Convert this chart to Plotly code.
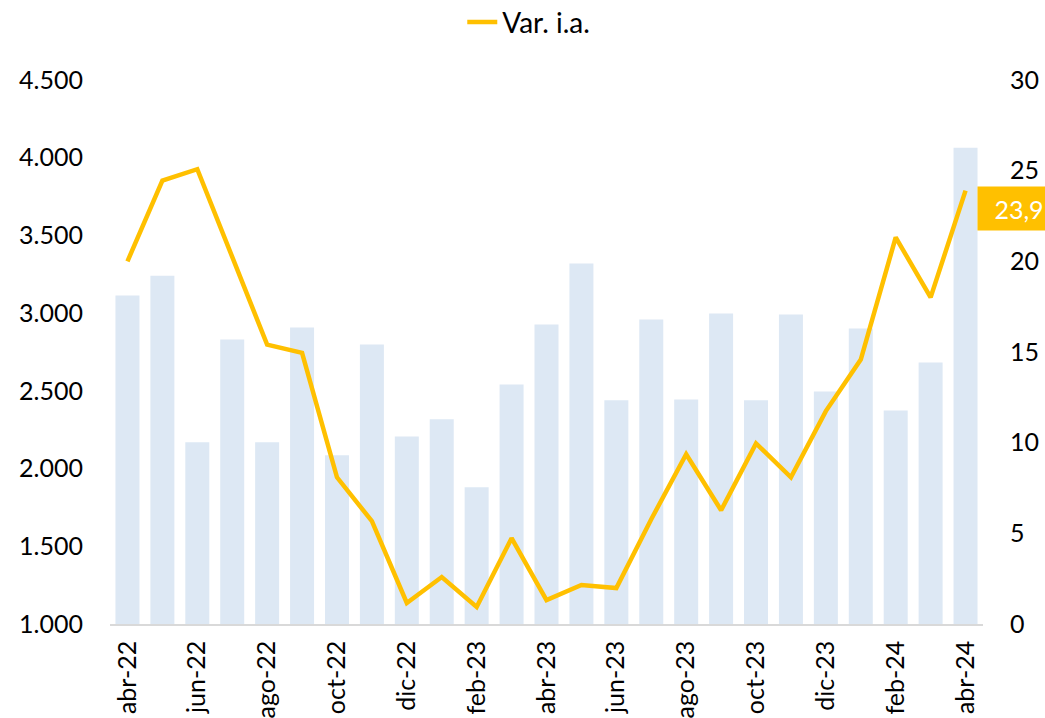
import plotly.graph_objects as go

months = ["abr-22", "may-22", "jun-22", "jul-22", "ago-22", "sep-22", "oct-22", "nov-22",
          "dic-22", "ene-23", "feb-23", "mar-23", "abr-23", "may-23", "jun-23", "jul-23",
          "ago-23", "sep-23", "oct-23", "nov-23", "dic-23", "ene-24", "feb-24", "mar-24", "abr-24"]
volume = [3113, 3241, 2169, 2830, 2169, 2907, 2085, 2798, 2207, 2317, 1880, 2541, 2927,
          3319, 2439, 2959, 2445, 2997, 2439, 2991, 2496, 2901, 2374, 2683, 4064]
var_ia = [20.0, 24.45, 25.08, 20.2, 15.41, 14.95, 8.09, 5.67, 1.16, 2.59, 0.94, 4.73, 1.32,
          2.15, 1.98, 5.78, 9.36, 6.27, 9.96, 8.09, 11.74, 14.58, 21.32, 18.01, 23.9]
tick_months = months[::2]
left_ticks = [1000, 1500, 2000, 2500, 3000, 3500, 4000, 4500]
right_ticks = [0, 5, 10, 15, 20, 25, 30]

FONT = "Lato"
GOLD = "#FFC000"
BLUE = "#DDE8F4"

fig = go.Figure()
fig.add_trace(go.Bar(x=months, y=volume, marker=dict(color=BLUE, line=dict(width=0)),
                     showlegend=False, yaxis="y"))
fig.add_trace(go.Scatter(x=months, y=var_ia, mode="lines", name="Var. i.a.",
                         line=dict(color=GOLD, width=4.5), yaxis="y2"))

last = var_ia[-1]
fig.add_annotation(x=months[-1], y=last, xref="x", yref="y2",
                   text=f"{last:.1f}".replace(".", ","), showarrow=False,
                   xanchor="left", yanchor="middle", xshift=11, yshift=-18,
                   font=dict(family=FONT, size=25, color="white"),
                   bgcolor=GOLD, borderpad=4, width=74, height=35, align="center")

fig.update_layout(
    width=1045, height=718,
    margin=dict(l=110, r=62, t=80, b=94),
    paper_bgcolor="white", plot_bgcolor="white",
    separators=",.",
    bargap=0.313,
    font=dict(family=FONT, size=24, color="black"),
    showlegend=True,
    legend=dict(orientation="h", xref="container", yref="container",
                x=0.506, xanchor="center", y=0.969, yanchor="middle",
                font=dict(family=FONT, size=28, color="black"), bgcolor="rgba(0,0,0,0)"),
    xaxis=dict(type="category", range=[-0.5, 24.5], tickmode="array",
               tickvals=tick_months, ticktext=tick_months, tickangle=-90,
               showline=True, linecolor="#D9D9D9", linewidth=1.5, showgrid=False,
               ticks="", ticklabelstandoff=5, automargin=False,
               tickfont=dict(family=FONT, size=25, color="black")),
    yaxis=dict(range=[1000, 4500], tickmode="array", tickvals=left_ticks,
               tickformat=",d", showgrid=False, showline=False, zeroline=False,
               ticks="", ticklabelstandoff=26, automargin=False,
               tickfont=dict(family=FONT, size=25, color="black")),
    yaxis2=dict(range=[0, 30], tickmode="array", tickvals=right_ticks, overlaying="y",
                side="right", showgrid=False, showline=False, zeroline=False,
                ticks="", ticklabelstandoff=26, automargin=False,
                tickfont=dict(family=FONT, size=25, color="black")),
)

fig.write_html("out.html", config={"displayModeBar": False},
               post_script="document.body.style.margin='0';document.body.style.overflow='hidden';")
